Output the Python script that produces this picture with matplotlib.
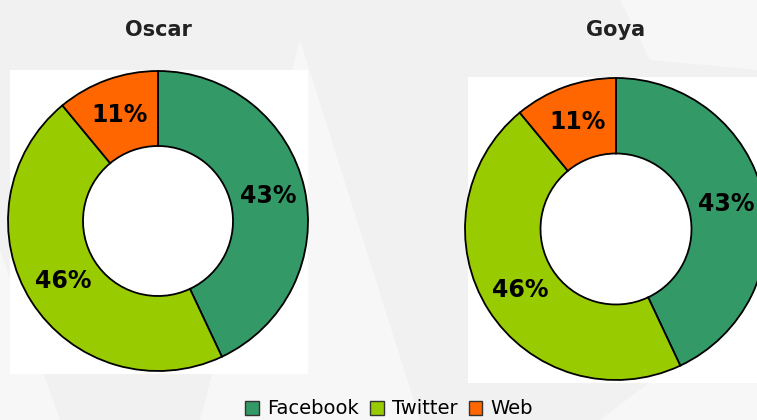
import numpy as np
import matplotlib.pyplot as plt
from matplotlib.patches import Rectangle, Polygon, Patch

categories = ["Facebook", "Twitter", "Web"]
oscar = [43, 46, 11]
goya = [43, 46, 11]
titles = ["Oscar", "Goya"]
colors = ["#339966", "#99cc00", "#ff6600"]

W, H = 757, 420
fig = plt.figure(figsize=(W / 100, H / 100), dpi=100)
fig.patch.set_facecolor("#f1f1f1")


def fx(x):
    return x / W


def fy(y):
    return 1 - y / H


# faint background shapes
shapes = [
    [(200, 420), (300, 40), (420, 420)],
    [(620, 0), (757, 0), (757, 70), (650, 60)],
    [(0, 250), (60, 420), (0, 420)],
    [(600, 420), (757, 300), (757, 420)],
]
for pts in shapes:
    fig.patches.append(Polygon([(fx(x), fy(y)) for x, y in pts], closed=True,
                               transform=fig.transFigure, facecolor="#f7f7f7",
                               edgecolor="none", zorder=0))

# white panels behind the donuts
for x0, y0, x1, y1 in [(10, 70, 308, 374), (468, 77, 757, 383)]:
    fig.patches.append(Rectangle((fx(x0), fy(y1)), fx(x1) - fx(x0), fy(y0) - fy(y1),
                                 transform=fig.transFigure, facecolor="white",
                                 edgecolor="none", zorder=1))

# donut centres / radius in px
boxes = [(158, 221, 150), (616, 229, 151)]
data = [oscar, goya]

for (cx, cy, r), vals, title in zip(boxes, data, titles):
    ax = fig.add_axes([fx(cx - r), fy(cy + r), 2 * r / W, 2 * r / H])
    ax.set_zorder(2)
    wedges, texts = ax.pie(vals, colors=colors, startangle=90, counterclock=False,
                           radius=1, wedgeprops=dict(width=0.5, edgecolor="black",
                                                     linewidth=1.3))
    for w, v in zip(wedges, vals):
        ang = np.deg2rad((w.theta1 + w.theta2) / 2)
        ax.text(0.75 * np.cos(ang), 0.75 * np.sin(ang), f"{v}%", ha="center",
                va="center", fontsize=17, fontweight="bold", color="black")
        w.set_clip_on(False)
    ax.set_xlim(-1, 1)
    ax.set_ylim(-1, 1)
    ax.set_aspect("auto")
    ax.axis("off")
    fig.text(fx(cx), fy(30), title, ha="center", va="center", fontsize=15,
             fontweight="bold", color="#222222")

handles = [Patch(facecolor=c, edgecolor="#333333", linewidth=1) for c in colors]
fig.legend(handles, categories, loc="center", bbox_to_anchor=(fx(389), fy(409)),
           ncol=3, frameon=False, fontsize=14, handlelength=0.7, handleheight=0.7,
           handletextpad=0.4, columnspacing=0.6, borderaxespad=0)

fig.savefig("out.png", dpi=100, facecolor=fig.get_facecolor())
